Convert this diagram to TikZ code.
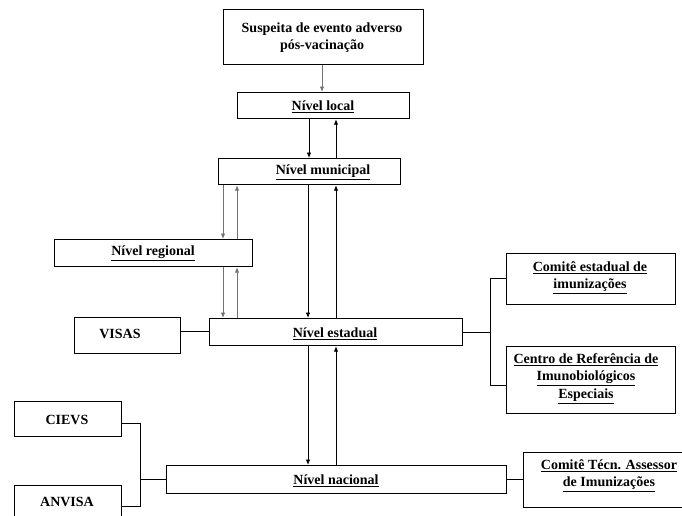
\documentclass[tikz,border=0pt]{standalone}
\usepackage{fontspec}
\setmainfont{Liberation Serif}
\usetikzlibrary{arrows.meta}
\tikzset{
  box/.style={draw, line width=1.2pt, inner sep=0pt, anchor=north west},
  txt/.style={font=\fontsize{14}{17.5}\selectfont\bfseries, align=center, inner sep=0pt, yshift=-2.5pt},
  arr/.style={line width=0.9pt, -{Latex[length=5.5pt,width=4.5pt]}},
  garr/.style={arr, draw=black!55},
  link/.style={line width=1pt}
}
\newcommand{\ul}[1]{\underline{#1}}
\begin{document}
\begin{tikzpicture}[x=1pt,y=-1pt]
\useasboundingbox (0,0) rectangle (682,515);
\clip (0,0) rectangle (682,515);
% boxes
\node[box, minimum width=200pt, minimum height=55pt] (top) at (223,9) {};
\node[box, minimum width=172pt, minimum height=26pt] (local) at (237,92) {};
\node[box, minimum width=182pt, minimum height=26pt] (mun) at (218,158) {};
\node[box, minimum width=198pt, minimum height=27pt] (reg) at (54,239) {};
\node[box, minimum width=106pt, minimum height=36pt] (visas) at (74,317) {};
\node[box, minimum width=253pt, minimum height=27pt] (est) at (209,318) {};
\node[box, minimum width=169pt, minimum height=51pt] (cei) at (506,253) {};
\node[box, minimum width=169pt, minimum height=67pt] (crie) at (506,346) {};
\node[box, minimum width=340pt, minimum height=28pt] (nac) at (166,465) {};
\node[box, minimum width=160pt, minimum height=55pt] (ctai) at (523,452) {};
\node[box, minimum width=107pt, minimum height=35pt] (cievs) at (14,401) {};
\node[box, minimum width=107pt, minimum height=40pt] (anvisa) at (14,485) {};
% texts
\node[txt] (ttop) at (322,35) {Suspeita de evento adverso\\pós-vacinação};
\node[txt] (tlocal) at (323,104) {\ul{Nível local}};
\node[txt] (tmun) at (323,170) {\ul{Nível municipal}};
\node[txt] (treg) at (153,251) {\ul{Nível regional}};
\node[txt] (tvisas) at (120,331) {VISAS};
\node[txt] (test) at (335,331) {\ul{Nível estadual}};
\node[txt] (tcei) at (590,275) {\ul{Comitê estadual de}\\\ul{imunizações}};
\node[txt] (tcrie) at (586,376) {\ul{Centro de Referência de}\\\ul{Imunobiológicos}\\\ul{Especiais}};
\node[txt] (tnac) at (336,478) {\ul{Nível nacional}};
\node[txt] (tctai) at (609,473) {\ul{Comitê Técn. Assessor}\\\ul{de Imunizações}};
\node[txt] (tcievs) at (67,417) {CIEVS};
\node[txt] (tanvisa) at (67,499) {ANVISA};
% vertical arrows
\draw[garr] (top.south -| 322,0) -- (local.north -| 322,0);
\draw[arr] (local.south -| 309,0) -- (mun.north -| 309,0);
\draw[arr] (mun.north -| 336,0) -- (local.south -| 336,0);
\draw[garr] (mun.south -| 223,0) -- (reg.north -| 223,0);
\draw[garr] (reg.north -| 237,0) -- (mun.south -| 237,0);
\draw[garr] (reg.south -| 223,0) -- (est.north -| 223,0);
\draw[garr] (est.north -| 237,0) -- (reg.south -| 237,0);
\draw[arr] (mun.south -| 308,0) -- (est.north -| 308,0);
\draw[arr] (est.north -| 336,0) -- (mun.south -| 336,0);
\draw[arr] (est.south -| 308,0) -- (nac.north -| 308,0);
\draw[arr] (nac.north -| 336,0) -- (est.south -| 336,0);
% side links
\draw[link] (visas.east |- 0,331) -- (est.west |- 0,331);
\draw[link] (est.east |- 0,332) -- (490,332);
\draw[link] (cei.west |- 0,278) -| (490,385) -- (crie.west |- 0,385);
\draw[link] (nac.east |- 0,479) -- (ctai.west |- 0,479);
\draw[link] (cievs.east |- 0,423) -| (140,506) -- (anvisa.east |- 0,506);
\draw[link] (nac.west |- 0,479) -- (140,479);
\end{tikzpicture}
\end{document}
